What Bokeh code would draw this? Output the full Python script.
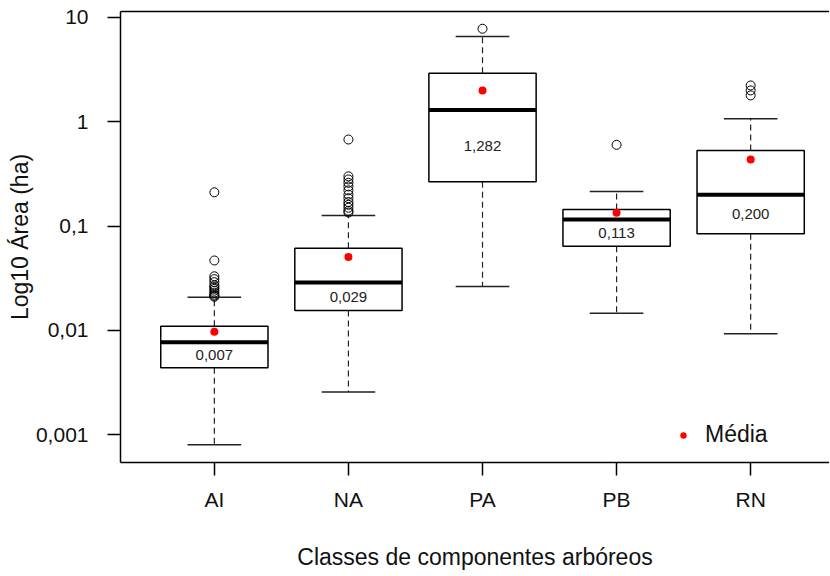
import math
from bokeh.plotting import figure
from bokeh.models import (FixedTicker, CustomJSTickFormatter, LinearAxis, Legend,
                          LegendItem, ColumnDataSource)
from bokeh.core.properties import value
from bokeh.embed import file_html
from bokeh.resources import INLINE

# ---------------- data ----------------
categories = ["AI", "NA", "PA", "PB", "RN"]
q1 = [0.00438, 0.0155, 0.266, 0.0641, 0.0843]
medians = [0.0077, 0.0287, 1.30, 0.1156, 0.1995]
q3 = [0.01097, 0.0614, 2.92, 0.144, 0.531]
whisker_low = [0.0008, 0.00256, 0.0264, 0.01462, 0.00927]
whisker_high = [0.0208, 0.1265, 6.58, 0.215, 1.07]
means = [0.0097, 0.0504, 2.0, 0.134, 0.435]
median_labels = ["0,007", "0,029", "1,282", "0,113", "0,200"]

outliers_AI = [0.211, 0.0468, 0.033, 0.031, 0.029, 0.027, 0.026, 0.025, 0.024,
               0.023, 0.022, 0.0215, 0.021]
outliers_NA = [0.676, 0.30, 0.28, 0.26, 0.24, 0.22, 0.20, 0.185, 0.17, 0.16,
               0.15, 0.14, 0.135]
outliers_PA = [7.8]
outliers_PB = [0.601]
outliers_RN = [2.23, 2.0, 1.79]

y_ticks = [0.001, 0.01, 0.1, 1, 10]
x_title = "Classes de componentes arbóreos"
y_title = "Log10 Área (ha)"
legend_label = "Média"

# ---------------- derived sources ----------------
xpos = [i + 1 for i in range(len(categories))]
BOX_HALF = 0.4
CAP_HALF = 0.2

box_src = ColumnDataSource(dict(
    x=xpos,
    left=[x - BOX_HALF for x in xpos],
    right=[x + BOX_HALF for x in xpos],
    capl=[x - CAP_HALF for x in xpos],
    capr=[x + CAP_HALF for x in xpos],
    q1=q1, q3=q3, med=medians, lo=whisker_low, hi=whisker_high, mean=means,
    lab=median_labels,
    laby=[math.sqrt(m * a) for m, a in zip(medians, q1)],
))

all_out = [outliers_AI, outliers_NA, outliers_PA, outliers_PB, outliers_RN]
ox, oy = [], []
for x, vals in zip(xpos, all_out):
    for v in vals:
        ox.append(x)
        oy.append(v)
out_src = ColumnDataSource(dict(x=ox, y=oy))

FONT = "Liberation Sans"

p = figure(width=829, height=574, y_axis_type="log",
           x_range=(0.3, 5.588), y_range=(0.000541, 11.415),
           output_backend="svg", toolbar_location=None,
           min_border_left=120, min_border_top=11, min_border_bottom=112,
           min_border_right=0)
p.outline_line_color = None
p.grid.grid_line_color = None
p.background_fill_color = "white"

# whiskers
p.segment(x0="x", y0="q3", x1="x", y1="hi", source=box_src,
          line_color="#222222", line_width=1.2, line_dash="6 4")
p.segment(x0="x", y0="q1", x1="x", y1="lo", source=box_src,
          line_color="#222222", line_width=1.2, line_dash="6 4")
p.segment(x0="capl", y0="hi", x1="capr", y1="hi", source=box_src,
          line_color="#222222", line_width=1.5)
p.segment(x0="capl", y0="lo", x1="capr", y1="lo", source=box_src,
          line_color="#222222", line_width=1.5)
# boxes
p.quad(left="left", right="right", bottom="q1", top="q3", source=box_src,
       fill_color="white", line_color="black", line_width=1.5)
# medians
p.segment(x0="left", y0="med", x1="right", y1="med", source=box_src,
          line_color="black", line_width=4)
# median labels
p.text(x="x", y="laby", text="lab", source=box_src, text_align="center",
       text_baseline="middle", text_font=value(FONT), text_font_size="15px",
       text_color="#222222")
# outliers
p.scatter(x="x", y="y", source=out_src, marker="circle", size=9,
          fill_color=None, line_color="black", line_width=1)
# means
mean_r = p.scatter(x="x", y="mean", source=box_src, marker="circle", size=8,
                   fill_color="red", line_color=None)

legend = Legend(items=[LegendItem(label=legend_label, renderers=[mean_r])],
                location=(555, 14), orientation="vertical",
                border_line_color=None, background_fill_alpha=0,
                padding=0, margin=0, spacing=0,
                glyph_width=16, glyph_height=24, label_height=24,
                label_standoff=14, label_text_font=FONT,
                label_text_font_size="23px", label_text_color="#111111")
p.add_layout(legend, "center")

# axes
p.xaxis.ticker = FixedTicker(ticks=xpos)
p.xaxis.major_label_overrides = {x: c for x, c in zip(xpos, categories)}
p.yaxis.ticker = FixedTicker(ticks=y_ticks)
p.yaxis.formatter = CustomJSTickFormatter(code="return tick.toString().replace('.', ',');")

for ax in (p.xaxis, p.yaxis):
    ax.axis_line_color = "black"
    ax.axis_line_width = 1.5
    ax.major_tick_line_color = "black"
    ax.major_tick_line_width = 1.5
    ax.major_tick_out = 13
    ax.major_tick_in = 0
    ax.minor_tick_line_color = None
    ax.major_label_text_font = FONT
    ax.major_label_text_font_size = "21px"
    ax.major_label_text_color = "#111111"
    ax.axis_label_text_font = FONT
    ax.axis_label_text_font_size = "23px"
    ax.axis_label_text_font_style = "normal"
    ax.axis_label_text_color = "#111111"

p.xaxis.axis_label = x_title
p.yaxis.axis_label = y_title
p.xaxis.major_label_standoff = 12
p.xaxis.axis_label_standoff = 30
p.yaxis.major_label_standoff = 19
p.yaxis.axis_label_standoff = 0

top_axis = LinearAxis(ticker=FixedTicker(ticks=[]), axis_line_color="black",
                      axis_line_width=1.5, major_tick_line_color=None,
                      minor_tick_line_color=None,
                      major_label_text_font_size="0px")
p.add_layout(top_axis, "above")

open("out.html", "w").write(file_html(p, INLINE))
